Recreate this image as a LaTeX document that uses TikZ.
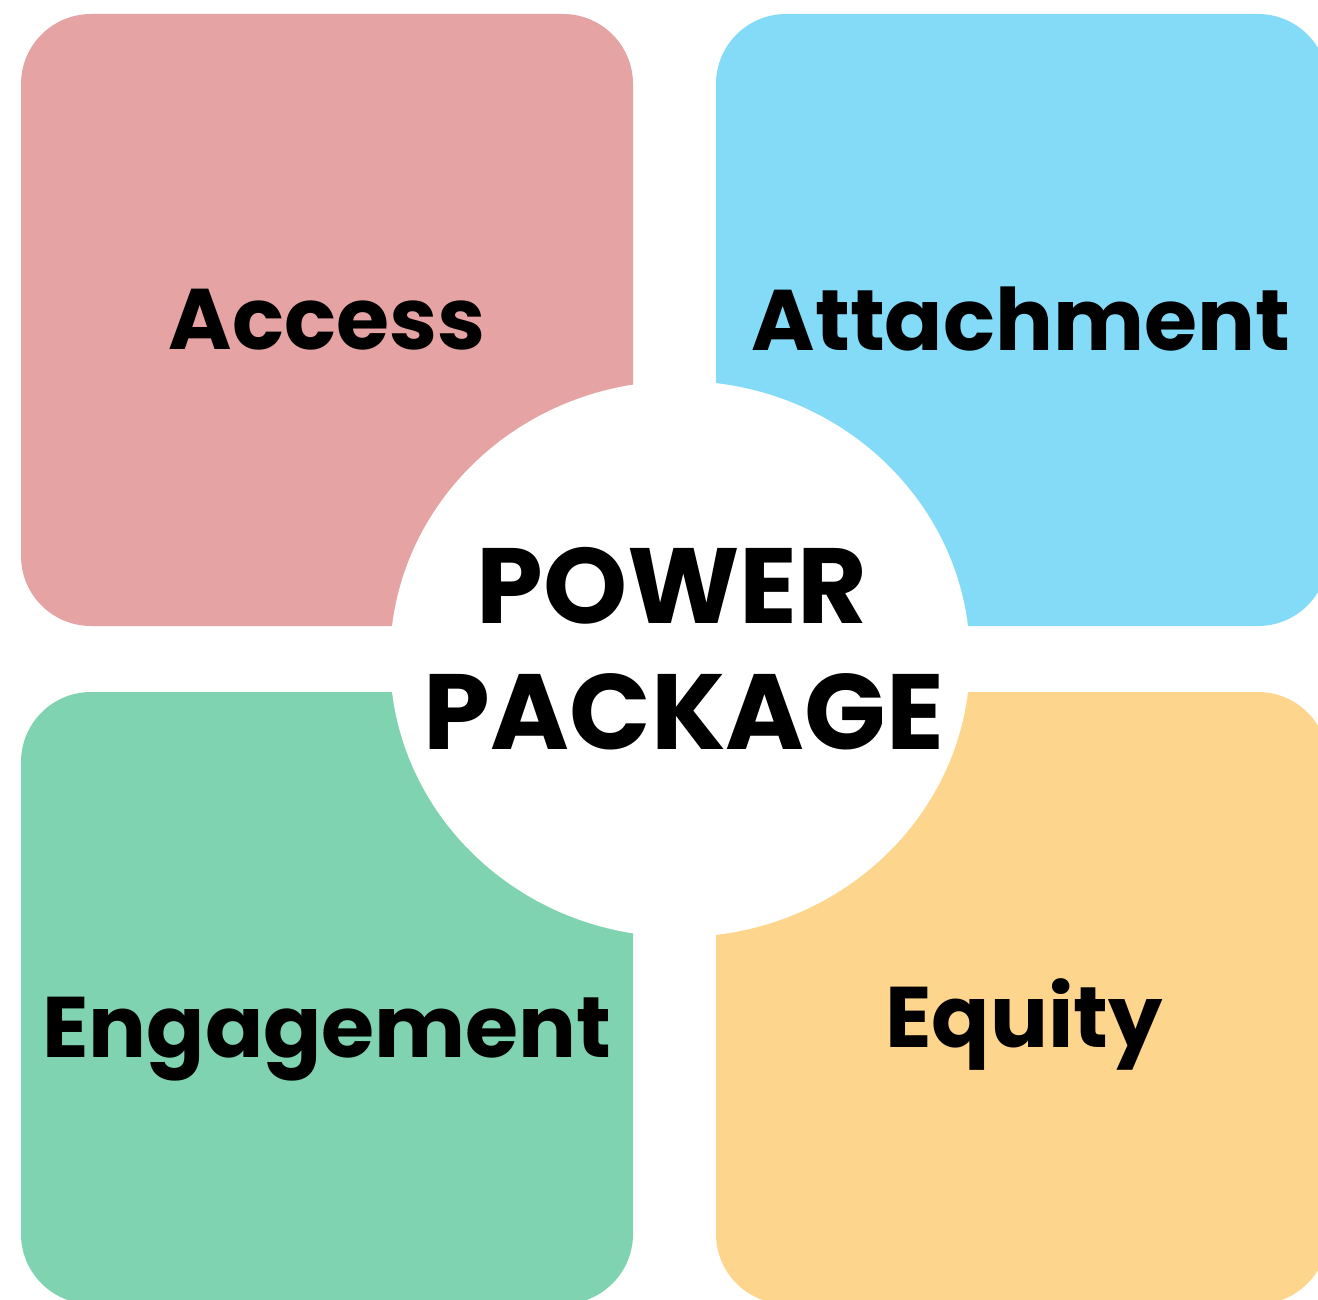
\documentclass[tikz,border=0pt]{standalone}
\usepackage{fontspec}
\setmainfont{Poppins}

\definecolor{accessred}{HTML}{E5A3A4}
\definecolor{attachblue}{HTML}{84DBF8}
\definecolor{engagegreen}{HTML}{80D3B0}
\definecolor{equityyellow}{HTML}{FDD58C}

\tikzset{
  tile/.style={rounded corners=70bp},
  tilelabel/.style={anchor=base, inner sep=0pt, text=black,
    font=\fontsize{86bp}{100bp}\selectfont\bfseries},
  hublabel/.style={anchor=base, inner sep=0pt, text=black,
    font=\fontsize{107bp}{120bp}\selectfont\bfseries}
}

\begin{document}
\begin{tikzpicture}[x=1bp, y=-1bp]

        % Marco
        \useasboundingbox (0,0) rectangle (1318,1300);
        \clip (0,0) rectangle (1318,1300);

        % Cuadro Access
        \fill[tile, accessred] (21,14) rectangle (633,626);

        % Cuadro Attachment
        \fill[tile, attachblue] (716,14) rectangle (1328,626);

        % Cuadro Engagement
        \fill[tile, engagegreen] (21,692) rectangle (633,1304);

        % Cuadro Equity
        \fill[tile, equityyellow] (716,692) rectangle (1328,1304);

        % Circulo central
        \fill[white] (680,659) ellipse [x radius=290bp, y radius=278bp];

        % Textos
        \node[tilelabel] (access) at (327,349) {Access};
        \node[tilelabel] (attachment) at (1021,350) {Attachment};
        \node[tilelabel] (engagement) at (327,1057) {Engagement};
        \node[tilelabel] (equity) at (1024,1047) {Equity};

        % Texto central
        \node[hublabel] (power) at (672,623) {POWER};
        \node[hublabel] (package) at (684,749) {PACKAGE};

    \end{tikzpicture}
\end{document}
